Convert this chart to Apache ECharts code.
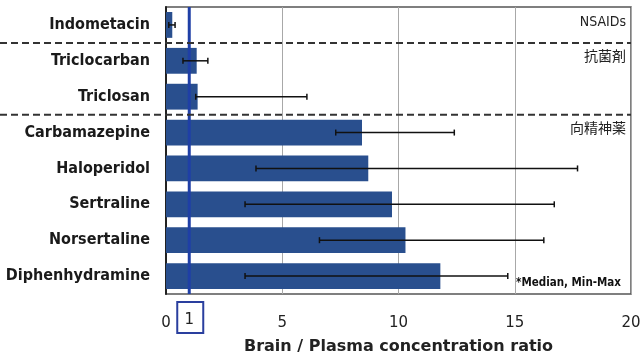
<!DOCTYPE html>
<html><head><meta charset="utf-8">
<script src="https://cdn.jsdelivr.net/npm/echarts@6/dist/echarts.min.js"></script>
<style>html,body{margin:0;padding:0;background:#fff}#c{width:641px;height:358px}</style>
</head><body><div id="c"></div>
<script>
var categories = ['Indometacin','Triclocarban','Triclosan','Carbamazepine','Haloperidol','Sertraline','Norsertaline','Diphenhydramine'];
var medians = [0.27, 1.32, 1.36, 8.43, 8.7, 9.72, 10.3, 11.8];
var mins = [0.12, 0.73, 1.28, 7.3, 3.87, 3.4, 6.6, 3.4];
var maxs = [0.39, 1.8, 6.06, 12.4, 17.7, 16.7, 16.25, 14.7];
var groupLabels = [[0,'NSAIDs'],[1,'抗菌剤'],[3,'向精神薬']];
var separators = [0.5, 2.5];
var refLine = [1];

var errData = categories.map(function(c,i){return [i, mins[i], maxs[i]];});
var chart = echarts.init(document.getElementById('c'));
var font = '"DejaVu Sans", sans-serif';
var cfont = '"DejaVu Sans Condensed", sans-serif';
chart.setOption({
  animation:false,
  grid:{left:166,right:10,top:7,bottom:64,show:true,borderColor:'#555',borderWidth:1.5,outerBoundsMode:'none',containLabel:false},
  xAxis:{type:'value',min:0,max:20,interval:5,
    axisLine:{show:false},axisTick:{show:false},
    splitLine:{lineStyle:{color:'#a8a8a8',width:1}},
    axisLabel:{fontSize:15,color:'#222',fontFamily:font,margin:22},
    name:'Brain / Plasma concentration ratio',nameLocation:'middle',nameGap:45,
    nameTextStyle:{fontSize:16,color:'#222',fontFamily:font,fontWeight:'bold'}},
  yAxis:{type:'category',data:categories,inverse:true,
    axisLine:{lineStyle:{color:'#222',width:2}},
    axisTick:{inside:true,length:4,lineStyle:{color:'#999'}},
    axisLabel:{fontSize:16,color:'#1a1a1a',fontFamily:cfont,fontWeight:'bold',margin:16}},
  series:[
    {type:'bar',data:medians,barWidth:'72%',itemStyle:{color:'#294f8e'}},
    {type:'custom',data:refLine,z:4,silent:true,clip:false,
     renderItem:function(params,api){
       var v=api.value(0);
       var top=api.coord([v,0]);
       var bot=api.coord([v,categories.length-1]);
       var band=api.size([0,1])[1];
       var y0=top[1]-band/2, y1=bot[1]+band/2;
       var x=top[0];
       return {type:'group',children:[
         {type:'line',shape:{x1:x,y1:y0,x2:x,y2:y1},style:{stroke:'#1f3fa6',lineWidth:3}},
         {type:'rect',shape:{x:x-12,y:y1+8,width:26,height:31},style:{fill:'none',stroke:'#2a3f9e',lineWidth:2}},
         {type:'text',style:{x:x,y:y1+26,text:String(v),align:'center',verticalAlign:'middle',fontSize:15,fill:'#222',fontFamily:font}}
       ]};
     }},
    {type:'custom',data:errData,z:5,
     renderItem:function(params,api){
       var y=api.value(0);
       var p1=api.coord([api.value(1),y]);
       var p2=api.coord([api.value(2),y]);
       var h=6;
       return {type:'group',children:[
         {type:'line',shape:{x1:p1[0],y1:p1[1],x2:p2[0],y2:p2[1]},style:{stroke:'#111',lineWidth:1.5}},
         {type:'line',shape:{x1:p1[0],y1:p1[1]-h/2,x2:p1[0],y2:p1[1]+h/2},style:{stroke:'#111',lineWidth:1.5}},
         {type:'line',shape:{x1:p2[0],y1:p2[1]-h/2,x2:p2[0],y2:p2[1]+h/2},style:{stroke:'#111',lineWidth:1.5}}
       ]};
     }},
    {type:'custom',data:separators,z:6,silent:true,clip:false,
     renderItem:function(params,api){
       var v=api.value(0);
       var a=api.coord([20,Math.floor(v)]);
       var b=api.coord([20,Math.ceil(v)]);
       var yy=(a[1]+b[1])/2;
       return {type:'line',shape:{x1:0,y1:yy,x2:a[0],y2:yy},style:{stroke:'#333',lineWidth:2,lineDash:[7,4]}};
     }},
    {type:'custom',data:groupLabels,z:7,silent:true,
     renderItem:function(params,api){
       var p=api.coord([20,api.value(0)]);
       return {type:'text',style:{x:p[0]-5,y:p[1]-3,text:groupLabels[params.dataIndex][1],align:'right',verticalAlign:'middle',
         fontSize:14,fill:'#222',fontFamily:'"DejaVu Sans Condensed", "Noto Sans CJK JP", sans-serif'}};
     }}
  ],
  graphic:[{type:'text',right:20,top:277,style:{text:'*Median, Min-Max',fontSize:11.5,fontWeight:'bold',fill:'#111',fontFamily:cfont}}]
});
</script></body></html>
